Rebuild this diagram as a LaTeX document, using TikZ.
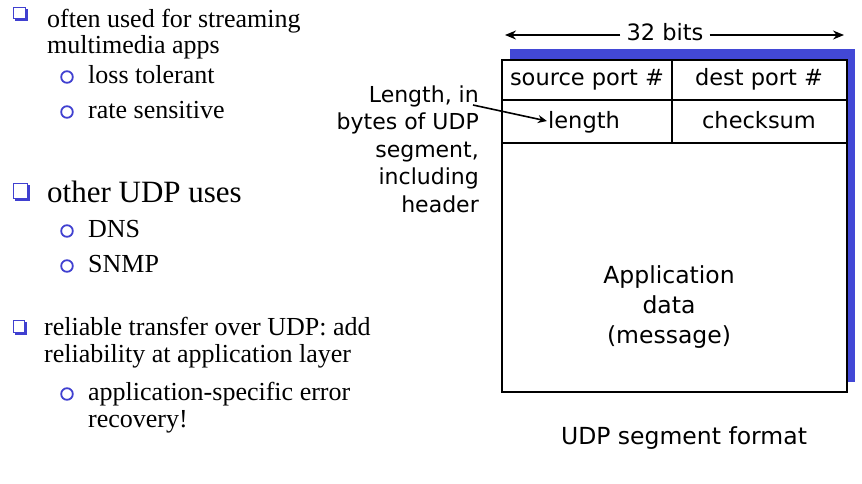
\documentclass[tikz,border=0pt]{standalone}
\usepackage{fontspec}
\setmainfont{Liberation Serif}
\newfontfamily\comic{DejaVu Sans}
\usetikzlibrary{arrows.meta}
\definecolor{bul}{RGB}{64,64,208}
\definecolor{shad}{RGB}{66,72,214}
\begin{document}
\begin{tikzpicture}[x=1pt,y=-1pt,
  maintext/.style={font=\fontsize{26}{26}\selectfont, anchor=base west, inner sep=0pt},
  bigtext/.style={font=\fontsize{31}{31}\selectfont, anchor=base west, inner sep=0pt},
  comictext/.style={font=\comic\fontsize{22.5}{22.5}\selectfont, anchor=base, inner sep=0pt},
  labeltext/.style={font=\comic\fontsize{22}{22}\selectfont, anchor=base east, inner sep=0pt},
  circbullet/.style={draw=bul, line width=1.8pt},
  boxline/.style={line width=2pt},
  dimarrow/.style={line width=1.6pt, -{Stealth[length=11pt,width=9pt]}},
  lenarrow/.style={line width=1.6pt, -{Stealth[length=9pt,width=8pt]}}
]
\useasboundingbox (0,0) rectangle (862,483);

% ---------- left bullet list ----------
% square bullets (shadowed box)
\fill[bul] (15,9) rectangle (28,21);
\draw[bul, fill=white, line width=0.9pt] (13,7) rectangle (25,18);
\fill[bul] (15,185) rectangle (30,201);
\draw[bul, fill=white, line width=0.9pt] (13,183) rectangle (27,198);
\fill[bul] (15,322) rectangle (27,335);
\draw[bul, fill=white, line width=0.9pt] (13,320) rectangle (24,332);

\node[maintext] (t1a) at (47,27) {often used for streaming};
\node[maintext] (t1b) at (47,53) {multimedia apps};
\draw[circbullet] (67,77) circle (5.8);
\node[maintext] (t1c) at (88,83) {loss tolerant};
\draw[circbullet] (67,112) circle (5.8);
\node[maintext] (t1d) at (88,118) {rate sensitive};

\node[bigtext] (t2a) at (47,202) {other UDP uses};
\draw[circbullet] (67,231) circle (5.8);
\node[maintext] (t2b) at (88,237) {DNS};
\draw[circbullet] (67,266) circle (5.8);
\node[maintext] (t2c) at (88,272) {SNMP};

\node[maintext] (t3a) at (44,335) {reliable transfer over UDP: add};
\node[maintext] (t3b) at (44,362) {reliability at application layer};
\draw[circbullet] (67,394) circle (5.8);
\node[maintext] (t3c) at (88,400) {application-specific error};
\node[maintext] (t3d) at (88,427) {recovery!};

% ---------- UDP segment format ----------
\fill[shad] (510,49) rectangle (855,382);
\draw[boxline, fill=white] (502,60) rectangle (847,392);
\draw[boxline] (502,100) -- (847,100);
\draw[boxline] (502,143) -- (847,143);
\draw[boxline] (672,60) -- (672,143);

\node[comictext] (bits) at (665,40) {32 bits};
\coordinate (bl) at (505,40);
\coordinate (br) at (844,40);
\draw[dimarrow] ([xshift=-6pt,yshift=5pt]bits.base west) -- ([yshift=5pt]bl);
\draw[dimarrow] ([xshift=6pt,yshift=5pt]bits.base east) -- ([yshift=5pt]br);

\node[comictext] (src) at (587,85) {source port \#};
\node[comictext] (dst) at (759,85) {dest port \#};
\node[comictext] (len) at (584,128) {length};
\node[comictext] (chk) at (759,128) {checksum};

\node[comictext, font=\comic\fontsize{23.5}{23.5}\selectfont] (app1) at (669,283) {Application};
\node[comictext, font=\comic\fontsize{23.5}{23.5}\selectfont] (app2) at (669,313) {data};
\node[comictext, font=\comic\fontsize{23.5}{23.5}\selectfont] (app3) at (669,343) {(message)};

\node[comictext, font=\comic\fontsize{23.5}{23.5}\selectfont] (cap) at (684,444) {UDP segment format};

\node[labeltext] (l1) at (479,102) {Length, in};
\node[labeltext] (l2) at (479,129.5) {bytes of UDP};
\node[labeltext] (l3) at (479,157) {segment,};
\node[labeltext] (l4) at (479,184.5) {including};
\node[labeltext] (l5) at (479,212) {header};

\coordinate (lstart) at (473,105);
\draw[lenarrow] (lstart) -- ([xshift=-1pt,yshift=7pt]len.base west);
\end{tikzpicture}
\end{document}
